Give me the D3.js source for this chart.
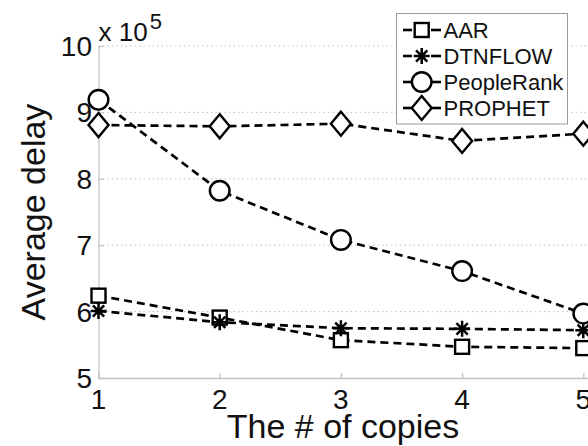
<!DOCTYPE html>
<html>
<head>
<meta charset="utf-8">
<script src="https://cdn.jsdelivr.net/npm/d3@7"></script>
<style>
  html, body { margin: 0; padding: 0; background: #fff; }
  svg { display: block; font-family: "Liberation Sans", Arial, Helvetica, sans-serif; }
</style>
</head>
<body>
<svg id="chart" width="588" height="446"></svg>
<script>
// Number of copies on the x axis
const copies = [1, 2, 3, 4, 5];
// Average delay per protocol, in units of 10^5
const aar        = [6.24, 5.91, 5.57, 5.47, 5.45];
const dtnflow    = [6.01, 5.84, 5.75, 5.74, 5.72];
const peopleRank = [9.19, 7.82, 7.08, 6.61, 5.97];
const prophet    = [8.81, 8.79, 8.83, 8.57, 8.68];
const seriesNames = ["AAR", "DTNFLOW", "PeopleRank", "PROPHET"];
const markerKinds = ["square", "asterisk", "circle", "diamond"];
const yTicks = [5, 6, 7, 8, 9, 10];
const xTicks = [1, 2, 3, 4, 5];

const series = [aar, dtnflow, peopleRank, prophet].map((vals, i) => ({
  name: seriesNames[i],
  marker: markerKinds[i],
  points: copies.map((c, j) => ({ x: c, y: vals[j] }))
}));

const svg = d3.select("#chart");
const plotLeft = 98.5, plotRight = 583.3, plotTop = 46, plotBottom = 378;
const x = d3.scaleLinear().domain([1, 5]).range([plotLeft, plotRight]);
const y = d3.scaleLinear().domain([5, 10]).range([plotBottom, plotTop]);

const axisGray = "#c4c4c4";
const ink = "#111";

// horizontal dotted grid
svg.append("g").selectAll("line").data(yTicks.filter(t => t > 5)).join("line")
  .attr("x1", plotLeft).attr("x2", plotRight + 20)
  .attr("y1", d => y(d)).attr("y2", d => y(d))
  .attr("stroke", "#c2c2c2").attr("stroke-width", 1)
  .attr("stroke-dasharray", "1.5,3");

// axes with inward ticks
const gx = svg.append("g").attr("transform", `translate(0,${plotBottom})`)
  .call(d3.axisBottom(x).tickValues(xTicks).tickSize(-5).tickFormat(""));
gx.select(".domain").attr("d", `M${plotLeft},0.5H${plotRight + 20}`);
const gy = svg.append("g").attr("transform", `translate(${plotLeft},0)`)
  .call(d3.axisLeft(y).tickValues(yTicks).tickSize(-5).tickFormat(""));
gy.select(".domain").attr("d", `M0.5,${plotBottom}V${plotTop}`);
svg.selectAll(".domain").attr("stroke", axisGray).attr("stroke-width", 1.3);
svg.selectAll(".tick line").attr("stroke", axisGray).attr("stroke-width", 1.3);

// tick labels
svg.append("g").selectAll("text").data(yTicks).join("text")
  .attr("x", 92).attr("y", d => y(d) + 10)
  .attr("text-anchor", "end").attr("font-size", 28).attr("fill", ink)
  .text(d => d);
svg.append("g").selectAll("text").data(xTicks).join("text")
  .attr("x", d => x(d)).attr("y", 409)
  .attr("text-anchor", "middle").attr("font-size", 28).attr("fill", ink)
  .text(d => d);

// exponent label
const expo = svg.append("text").attr("x", plotLeft).attr("y", 41)
  .attr("font-size", 26).attr("fill", ink);
expo.append("tspan").text("x 10");
expo.append("tspan").attr("dy", -12).attr("dx", 2).attr("font-size", 22).text("5");

// axis titles
svg.append("text")
  .attr("x", 343).attr("y", 438)
  .attr("text-anchor", "middle").attr("font-size", 34).attr("fill", ink)
  .text("The # of copies");
svg.append("text")
  .attr("transform", `translate(45,${(plotTop + plotBottom) / 2}) rotate(-90)`)
  .attr("text-anchor", "middle").attr("font-size", 34).attr("fill", ink)
  .text("Average delay");

// marker drawing
function drawMarker(g, kind) {
  const sw = 2.4;
  if (kind === "square") {
    g.append("rect").attr("x", -7).attr("y", -7).attr("width", 14).attr("height", 14)
      .attr("fill", "#fff").attr("stroke", "#000").attr("stroke-width", sw);
  } else if (kind === "circle") {
    g.append("circle").attr("r", 9.8)
      .attr("fill", "#fff").attr("stroke", "#000").attr("stroke-width", sw);
  } else if (kind === "diamond") {
    g.append("path").attr("d", "M0,-12L10,0L0,12L-10,0Z")
      .attr("fill", "#fff").attr("stroke", "#000").attr("stroke-width", sw);
  } else if (kind === "asterisk") {
    const r = 8;
    const d = [0, 45, 90, 135].map(a => {
      const c = Math.cos(a * Math.PI / 180) * r, s = Math.sin(a * Math.PI / 180) * r;
      return `M${-c},${-s}L${c},${s}`;
    }).join("");
    g.append("path").attr("d", d).attr("stroke", "#000").attr("stroke-width", 2.5).attr("fill", "none");
  }
}

// lines
const line = d3.line().x(d => x(d.x)).y(d => y(d.y));
const plot = svg.append("g");
series.forEach(s => {
  plot.append("path").datum(s.points).attr("d", line)
    .attr("fill", "none").attr("stroke", "#000").attr("stroke-width", 2.7)
    .attr("stroke-dasharray", "8,5");
});
series.forEach(s => {
  s.points.forEach(p => {
    const g = plot.append("g").attr("transform", `translate(${x(p.x)},${y(p.y)})`);
    drawMarker(g, s.marker);
  });
});

// legend
const lg = svg.append("g");
lg.append("rect").attr("x", 396.5).attr("y", 13.5).attr("width", 171).attr("height", 110.5)
  .attr("fill", "#fff").attr("stroke", "#9a9a9a").attr("stroke-width", 1);
series.forEach((s, i) => {
  const cy = 30 + i * 26;
  const row = lg.append("g").attr("transform", `translate(0,${cy})`);
  row.append("line").attr("x1", 403).attr("x2", 412).attr("y1", 0).attr("y2", 0)
    .attr("stroke", "#000").attr("stroke-width", 2.6);
  row.append("line").attr("x1", 431).attr("x2", 441).attr("y1", 0).attr("y2", 0)
    .attr("stroke", "#000").attr("stroke-width", 2.6);
  const m = row.append("g").attr("transform", "translate(421.7,0)");
  drawMarker(m, s.marker);
  row.append("text").attr("x", 443.5).attr("y", 7.5)
    .attr("font-size", 22).attr("fill", ink).text(s.name);
});
</script>
</body>
</html>
